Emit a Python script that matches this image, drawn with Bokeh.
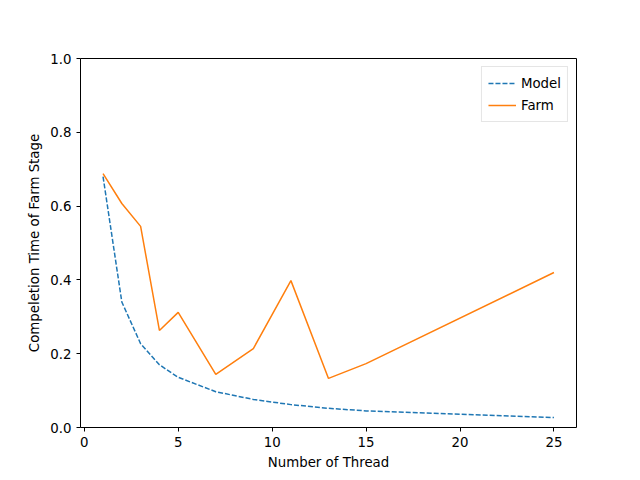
from bokeh.plotting import figure
from bokeh.models import Range1d, Legend, CustomJSTickFormatter
from bokeh.embed import file_html
from bokeh.resources import INLINE

threads = [1, 2, 3, 4, 5, 7, 9, 11, 13, 15, 25]
model = [0.68, 0.34, 0.227, 0.17, 0.136, 0.097, 0.076, 0.062, 0.052, 0.045, 0.027]
farm = [0.688, 0.607, 0.545, 0.263, 0.312, 0.144, 0.214, 0.398, 0.133, 0.173, 0.42]

p = figure(width=624, height=464, frame_width=496, frame_height=369,
           min_border_left=80, min_border_top=58, min_border_right=48, min_border_bottom=37,
           output_backend="svg", toolbar_location=None,
           x_range=Range1d(-0.2, 26.2), y_range=Range1d(0, 1.0))
p.xgrid.visible = False
p.ygrid.visible = False
p.outline_line_color = "black"

r1 = p.line(threads, model, line_color="#1f77b4", line_width=1.5, line_dash="5 2")
r2 = p.line(threads, farm, line_color="#ff7f0e", line_width=1.5)

p.xaxis.ticker = [0, 5, 10, 15, 20, 25]
p.yaxis.ticker = [0.0, 0.2, 0.4, 0.6, 0.8, 1.0]
p.yaxis.formatter = CustomJSTickFormatter(code="return tick.toFixed(1)")
p.xaxis.axis_label = "Number of Thread"
p.yaxis.axis_label = "Compeletion Time of Farm Stage"
for ax in (p.xaxis, p.yaxis):
    ax.axis_label_text_font_style = "normal"
    ax.axis_label_text_font = "DejaVu Sans"
    ax.axis_label_text_font_size = "10pt"
    ax.axis_label_text_color = "black"
    ax.major_label_text_font = "DejaVu Sans"
    ax.major_label_text_font_size = "10pt"
    ax.major_label_text_color = "black"
    ax.minor_tick_line_color = None
    ax.major_tick_line_color = "black"
    ax.major_tick_in = 0
    ax.major_tick_out = 4
    ax.axis_line_color = None

legend = Legend(items=[("Model", [r1]), ("Farm", [r2])], location="top_right")
legend.label_text_font = "DejaVu Sans"
legend.label_text_font_size = "10pt"
legend.label_text_color = "black"
legend.border_line_color = "#cccccc"
legend.glyph_width = 28
legend.spacing = 2
legend.padding = 6
legend.margin = 8
p.add_layout(legend)

open("out.html", "w").write(file_html(p, INLINE))
